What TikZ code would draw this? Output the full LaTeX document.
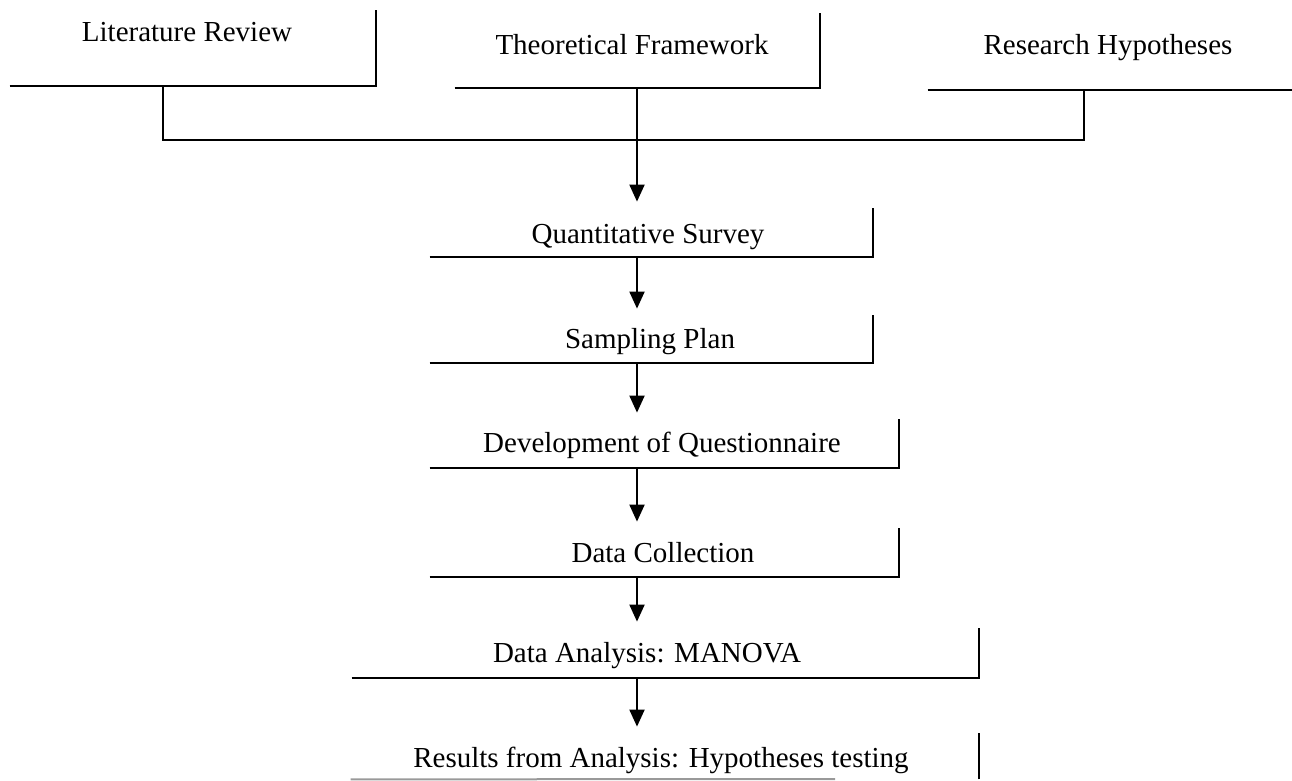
\documentclass[tikz,border=0pt]{standalone}
\usepackage{fontspec}
\setmainfont{Liberation Serif}
\usetikzlibrary{arrows.meta,fit}
\begin{document}
\begin{tikzpicture}[x=0.5pt,y=-0.5pt,
  frame/.style={line width=1pt, draw=black},
  arr/.style={line width=1pt, draw=black, shorten >=3pt,
    -{Triangle[length=8.5pt,width=7.5pt]}},
  lbl/.style={anchor=base, inner sep=0pt, font=\fontsize{14.5}{17}\selectfont},
  area/.style={inner sep=0pt, draw=none}]
\useasboundingbox (0,0) rectangle (1292,781);

% open frames: only the bottom rule and the right-hand rule are drawn
\node[area, fit={(10,10) (376,86)}]    (litbox) {};
\node[area, fit={(455,13) (820,88)}]   (theobox) {};
\node[area, fit={(928,13) (1292,90)}]  (hypbox) {};
\node[area, fit={(430,208) (873,257)}] (qsbox) {};
\node[area, fit={(430,315) (873,363)}] (spbox) {};
\node[area, fit={(430,419) (899,468)}] (dqbox) {};
\node[area, fit={(430,528) (899,577)}] (dcbox) {};
\node[area, fit={(352,628) (979,678)}] (dabox) {};
\node[area, fit={(351,733) (979,779)}] (rsbox) {};
\coordinate (rsend) at (835,779);

% labels
\node[lbl] (lit)  at (187,42)  {Literature Review};
\node[lbl] (theo) at (632,55)  {Theoretical Framework};
\node[lbl] (hyp)  at (1108,55) {Research Hypotheses};
\node[lbl] (qs)   at (648,243) {Quantitative Survey};
\node[lbl] (sp)   at (650,349) {Sampling Plan};
\node[lbl] (dq)   at (662,452) {Development of Questionnaire};
\node[lbl] (dc)   at (663,562) {Data Collection};
\node[lbl] (da)   at (647,662) {Data Analysis: MANOVA};
\node[lbl] (rs)   at (661,767) {Results from Analysis: Hypotheses testing};

% frame rules
\foreach \b in {litbox,theobox,qsbox,spbox,dqbox,dcbox,dabox}
  \draw[frame] (\b.south west) -- (\b.south east) -- (\b.north east);
\draw[frame] (hypbox.south west) -- (hypbox.south east);
\draw[line width=1pt, draw=black!40] (rsbox.south west) -- (rsend);
\draw[frame] (rsbox.south east) -- (rsbox.north east);

% joining bracket under the three top boxes
\coordinate (spine) at (637,0);
\coordinate (jl) at (163,140);
\coordinate (jr) at (1084,140);
\draw[frame] (litbox.south -| jl) -- (jl) -- (jr) -- (hypbox.south -| jr);

% main flow
\draw[arr] (theobox.south -| spine) -- (qsbox.north -| spine);
\draw[arr] (qsbox.south -| spine) -- (spbox.north -| spine);
\draw[arr] (spbox.south -| spine) -- (dqbox.north -| spine);
\draw[arr] (dqbox.south -| spine) -- (dcbox.north -| spine);
\draw[arr] (dcbox.south -| spine) -- (dabox.north -| spine);
\draw[arr] (dabox.south -| spine) -- (rsbox.north -| spine);
\end{tikzpicture}
\end{document}
